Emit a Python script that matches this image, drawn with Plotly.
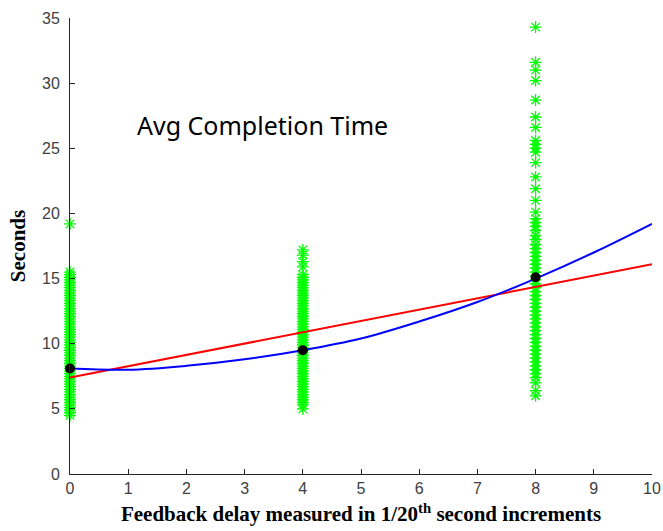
import plotly.graph_objects as go

# Delay groups (x positions)
delay_groups = [0, 4, 8]

# Individual completion times
times_d0 = [19.2, 15.5, 15.3, 15.1, 14.9, 14.7, 14.5, 14.3, 14.1, 13.9, 13.7, 13.5,
            13.3, 13.1, 12.9, 12.7, 12.5, 12.3, 12.1, 11.9, 11.7, 11.5, 11.3, 11.1,
            10.9, 10.7, 10.5, 10.3, 10.1, 9.9, 9.7, 9.5, 9.3, 9.1, 8.9, 8.7, 8.5,
            8.3, 8.1, 7.9, 7.7, 7.5, 7.3, 7.1, 6.9, 6.7, 6.5, 6.3, 6.1, 5.9, 5.7,
            5.5, 5.3, 5.1, 4.9, 4.7, 4.5]
times_d4 = [17.2, 16.8, 16.3, 15.9, 15.3, 15.1, 14.9, 14.7, 14.5, 14.3, 14.1, 13.9,
            13.7, 13.5, 13.3, 13.1, 12.9, 12.7, 12.5, 12.3, 12.1, 11.9, 11.7, 11.5,
            11.3, 11.1, 10.9, 10.7, 10.5, 10.3, 10.1, 9.9, 9.7, 9.5, 9.3, 9.1, 8.9,
            8.7, 8.5, 8.3, 8.1, 7.9, 7.7, 7.5, 7.3, 7.1, 6.9, 6.7, 6.5, 6.3, 6.1,
            5.9, 5.7, 5.5, 5.3, 5.0]
times_d8 = [34.3, 31.6, 31.0, 30.2, 28.7, 27.4, 26.6, 25.6, 25.3, 25.0, 24.7, 23.9,
            22.8, 21.9, 21.0, 20.1, 19.6, 19.3, 19.0, 18.7, 18.3, 18.0, 17.6, 17.3,
            17.0, 16.7, 16.4, 16.1, 15.8, 15.5, 15.2, 14.9, 14.6, 14.3, 14.0, 13.7,
            13.4, 13.1, 12.8, 12.5, 12.2, 11.9, 11.6, 11.3, 11.0, 10.7, 10.4, 10.1,
            9.8, 9.5, 9.2, 8.9, 8.6, 8.3, 8.0, 7.7, 7.4, 7.0, 6.4, 6.0]

# Group means
mean_times = [8.1, 9.5, 15.1]

# Fitted curves
fit_x = [0, 1, 2, 3, 4, 5, 6, 7, 8, 9, 10]
quad_fit = [8.1, 8.0, 8.3, 8.8, 9.5, 10.4, 11.7, 13.2, 15.0, 17.0, 19.2]
lin_x = [0, 10]
lin_fit = [7.4, 16.1]

fig = go.Figure()

all_times = [times_d0, times_d4, times_d8]
for gx, vals in zip(delay_groups, all_times):
    fig.add_trace(go.Scatter(
        x=[gx] * len(vals), y=vals, mode="markers",
        marker=dict(symbol="asterisk-open", size=10, color="#00ff00",
                    line=dict(color="#00ff00", width=1.3)),
        showlegend=False, cliponaxis=False))

fig.add_trace(go.Scatter(x=lin_x, y=lin_fit, mode="lines",
                         line=dict(color="#ff0000", width=2), showlegend=False))
fig.add_trace(go.Scatter(x=fit_x, y=quad_fit, mode="lines", line_shape="spline",
                         line=dict(color="#0000ff", width=2), showlegend=False))
fig.add_trace(go.Scatter(x=delay_groups, y=mean_times, mode="markers",
                         marker=dict(symbol="circle", size=10, color="black"),
                         showlegend=False, cliponaxis=False))

fig.add_annotation(x=3.3, y=26.8, xref="x", yref="y", text="Avg Completion Time",
                   showarrow=False, font=dict(family="Noto Sans", size=25, color="black"))

axis_common = dict(showline=True, linecolor="#262626", linewidth=1, ticks="inside",
                   ticklen=5, tickcolor="#262626", showgrid=False, zeroline=False,
                   tickfont=dict(family="Liberation Sans", size=16, color="#404040"),
                   mirror=False, automargin=False)

fig.update_layout(
    width=663, height=531,
    margin=dict(l=70, r=11, t=18, b=57),
    paper_bgcolor="white", plot_bgcolor="white",
    xaxis=dict(range=[0, 10], dtick=1, **axis_common,
               title=dict(text="<b>Feedback delay measured in 1/20<sup>th</sup> second increments</b>",
                          font=dict(family="Liberation Serif", size=21, color="black"),
                          standoff=10)),
    yaxis=dict(range=[0, 35], dtick=5, ticklabelstandoff=6, **axis_common,
               title=dict(text="<b>Seconds</b>",
                          font=dict(family="Liberation Serif", size=21, color="black"),
                          standoff=10)),
)

fig.write_html("out.html")
